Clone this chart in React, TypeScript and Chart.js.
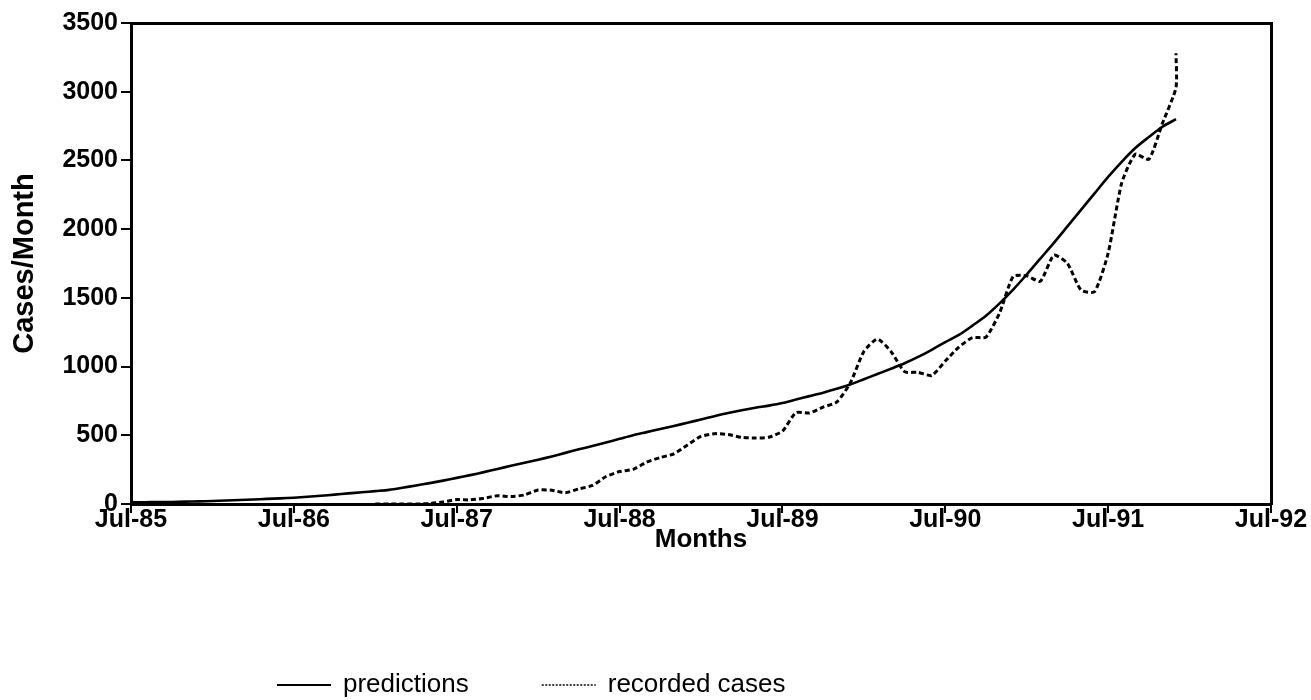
import { useEffect, useRef } from 'react';
import { Chart, registerables } from 'chart.js';

Chart.register(...registerables);

// Month index 0 = Jul-85; one tick per year
const xTickLabels = ['Jul-85', 'Jul-86', 'Jul-87', 'Jul-88', 'Jul-89', 'Jul-90', 'Jul-91', 'Jul-92'];
const yMax = 3500;
const yStep = 500;

// Model predictions, one value per month from Jul-85 to Dec-91
const predictionStartMonth = 0;
const predictions = [
  12, 13, 14, 15, 17, 19, 22, 25, 29, 33,
  37, 41, 46, 53, 60, 68, 77, 85, 94, 103,
  118, 135, 152, 170, 190, 210, 232, 255, 278, 300,
  322, 346, 372, 398, 422, 448, 474, 500, 523, 546,
  568, 591, 615, 639, 662, 682, 700, 716, 735, 760,
  785, 810, 838, 870, 908, 946, 984, 1024, 1070, 1122,
  1178, 1230, 1298, 1370, 1460, 1560, 1670, 1785, 1900, 2020,
  2140, 2260, 2380, 2490, 2590, 2670, 2745, 2800,
];

// Recorded monthly cases (last month reported twice: provisional and revised)
const recordedMonths = [
  18, 19, 20, 21, 22, 23, 24, 25, 26, 27,
  28, 29, 30, 31, 32, 33, 34, 35, 36, 37,
  38, 39, 40, 41, 42, 43, 44, 45, 46, 47,
  48, 49, 50, 51, 52, 53, 54, 55, 56, 57,
  58, 59, 60, 61, 62, 63, 64, 65, 66, 67,
  68, 69, 70, 71, 72, 73, 74, 75, 76, 77, 77,
];
const recordedCases = [
  0, 0, 0, 0, 3, 15, 32, 30, 42, 60,
  54, 66, 102, 100, 82, 110, 135, 200, 236, 252,
  305, 338, 365, 430, 492, 512, 505, 485, 480, 486,
  530, 665, 662, 705, 742, 880, 1110, 1200, 1110, 963,
  958, 935, 1040, 1142, 1210, 1215, 1390, 1655, 1661, 1620,
  1810, 1751, 1557, 1545, 1825, 2336, 2545, 2508, 2770, 3030, 3280,
];

const FONT_FAMILY = '"Liberation Sans", Arial, Helvetica, sans-serif';

// Key drawn under the plot: a line sample followed by each series name
const seriesKeyPlugin = {
  id: 'seriesKey',
  afterDraw(chart: any, _args: any, opts: any) {
    const ctx = chart.ctx as CanvasRenderingContext2D;
    ctx.save();
    ctx.font = `${opts.fontSize}px ${FONT_FAMILY}`;
    ctx.textBaseline = 'middle';
    ctx.textAlign = 'left';
    let x = opts.left;
    const y = opts.y;
    chart.data.datasets.forEach((ds: any, i: number) => {
      ctx.beginPath();
      ctx.strokeStyle = ds.borderColor;
      ctx.lineWidth = opts.sampleWidths[i];
      ctx.setLineDash(opts.sampleDashes[i]);
      ctx.moveTo(x, y);
      ctx.lineTo(x + opts.sampleLength, y);
      ctx.stroke();
      ctx.setLineDash([]);
      x += opts.sampleLength + opts.textGap;
      ctx.fillStyle = '#000';
      ctx.fillText(ds.label, x, y);
      x += ctx.measureText(ds.label).width + opts.itemGap;
    });
    ctx.restore();
  },
};

export default function App() {
  const canvasRef = useRef<HTMLCanvasElement>(null);

  useEffect(() => {
    const canvas = canvasRef.current;
    if (!canvas) return;

    const tickFont = { family: FONT_FAMILY, size: 25, weight: 'bold' as const };
    const xTitleFont = { family: FONT_FAMILY, size: 26, weight: 'bold' as const, lineHeight: 1 };
    const yTitleFont = { family: FONT_FAMILY, size: 29, weight: 'bold' as const, lineHeight: 1 };

    const chart = new Chart(canvas, {
      type: 'line',
      data: {
        datasets: [
          {
            label: 'predictions',
            data: predictions.map((v, i) => ({ x: predictionStartMonth + i, y: v })),
            borderColor: '#000',
            borderWidth: 2.6,
            pointRadius: 0,
            tension: 0.3,
            fill: false,
            xAxisID: 'x',
            yAxisID: 'y',
          },
          {
            label: 'recorded cases',
            data: recordedMonths.map((m, i) => ({ x: m, y: recordedCases[i] })),
            borderColor: '#000',
            borderWidth: 3,
            borderDash: [5, 3],
            pointRadius: 0,
            tension: 0.2,
            fill: false,
            xAxisID: 'x',
            yAxisID: 'y',
          },
        ],
      },
      options: {
        responsive: false,
        animation: false,
        events: [],
        layout: { padding: { left: 0, right: 40, top: 23, bottom: 147 } },
        plugins: {
          legend: { display: false },
          tooltip: { enabled: false },
          seriesKey: {
            left: 277,
            y: 685,
            fontSize: 26,
            sampleLength: 54,
            textGap: 12,
            itemGap: 73,
            sampleWidths: [2.2, 1.6],
            sampleDashes: [[], [2, 1.5]],
          },
        } as any,
        scales: {
          x: {
            type: 'linear',
            position: 'bottom',
            min: 0,
            max: (xTickLabels.length - 1) * 12,
            ticks: {
              stepSize: 12,
              autoSkip: false,
              maxRotation: 0,
              padding: -8,
              color: '#000',
              font: tickFont,
              callback: (v: any) => xTickLabels[Math.round(Number(v) / 12)] ?? '',
            },
            grid: { display: true, drawOnChartArea: false, drawTicks: true, tickLength: 9, color: '#000', lineWidth: 2 },
            border: { display: true, color: '#000', width: 3 },
            title: { display: true, text: 'Months', color: '#000', font: xTitleFont, padding: 0 },
            afterFit: (s: any) => { s.height = 49; },
          },
          y: {
            type: 'linear',
            position: 'left',
            min: 0,
            max: yMax,
            ticks: {
              stepSize: yStep,
              padding: 3,
              color: '#000',
              font: tickFont,
              callback: (v: any) => String(v),
            },
            grid: { display: true, drawOnChartArea: false, drawTicks: true, tickLength: 10, color: '#000', lineWidth: 2 },
            border: { display: true, color: '#000', width: 3 },
            title: { display: true, text: 'Cases/Month', color: '#000', font: yTitleFont, padding: { top: 10, bottom: 0 } },
            afterFit: (s: any) => { s.width = 131; },
          },
          xTop: {
            type: 'linear',
            position: 'top',
            display: true,
            ticks: { display: false },
            grid: { display: false, drawTicks: false },
            border: { display: true, color: '#000', width: 3 },
            afterFit: (s: any) => { s.height = 0; },
          },
          yRight: {
            type: 'linear',
            position: 'right',
            display: true,
            ticks: { display: false },
            grid: { display: false, drawTicks: false },
            border: { display: true, color: '#000', width: 3 },
            afterFit: (s: any) => { s.width = 0; },
          },
        },
      },
      plugins: [seriesKeyPlugin],
    });

    return () => chart.destroy();
  }, []);

  return (
    <div style={{ position: 'absolute', left: 0, top: 0, width: 1311, height: 700, background: '#fff' }}>
      <canvas ref={canvasRef} width={1311} height={700} style={{ display: 'block', width: 1311, height: 700 }} />
    </div>
  );
}
